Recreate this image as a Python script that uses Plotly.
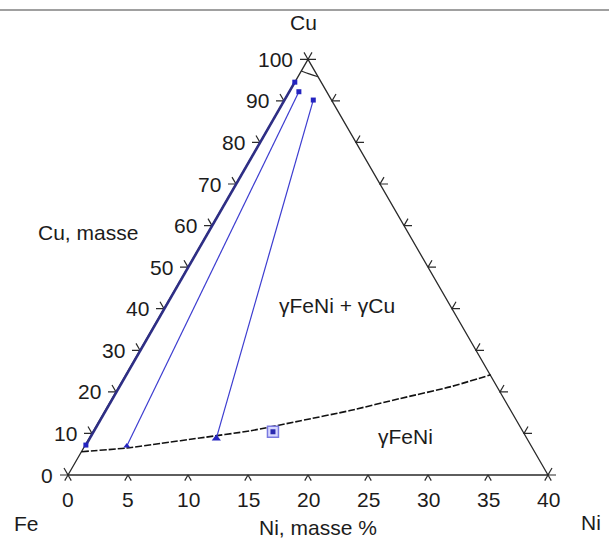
import plotly.graph_objects as go

# ---------------- data (Ni mass %, Cu mass %) ----------------
ni_ticks = [0, 5, 10, 15, 20, 25, 30, 35, 40]
cu_ticks = [0, 10, 20, 30, 40, 50, 60, 70, 80, 90, 100]

# boundary gammaFeNi / gammaFeNi + gammaCu
solvus_ni = [0.0, 3.6, 6.2, 9.2, 13.0, 16.7, 20.4, 24.0, 27.6, 30.4]
solvus_cu = [5.6, 6.5, 7.6, 8.9, 10.6, 13.0, 15.5, 18.4, 21.2, 24.1]

# Cu-rich boundary near the Cu corner
cu_corner_ni = [0.0, 0.8, 1.68]
cu_corner_cu = [97.2, 96.5, 95.8]

# tie lines (gammaFeNi end, gammaCu end)
tie_ni_low = [0.05, 3.5, 10.6]
tie_cu_low = [7.2, 7.0, 8.8]
tie_ni_high = [0.0, 0.8, 2.4]
tie_cu_high = [94.5, 92.2, 90.2]

# single alloy point
alloy_ni = [15.0]
alloy_cu = [10.4]

NI_MAX = 40
CU_MAX = 100
H = NI_MAX * 0.8660254 / CU_MAX   # height factor of the equilateral frame


def proj(ni, cu):
    """Skewed (triangular) projection into the plane, Ni units."""
    return ni + cu * (NI_MAX / 2) / CU_MAX, cu * H


def proj_list(nis, cus):
    xs, ys = [], []
    for a, b in zip(nis, cus):
        x, y = proj(a, b)
        xs.append(x)
        ys.append(y)
    return xs, ys


fig = go.Figure()
AX = "#2a2a2a"
TXT = "#1c1c1c"

# frame (triangle)
fx, fy = proj_list([0, NI_MAX, 0, 0], [0, 0, CU_MAX, 0])
fig.add_trace(go.Scatter(x=fx, y=fy, mode="lines",
                         line=dict(color=AX, width=1.3), hoverinfo="skip"))

# ticks
PX = 12.0  # pixels per Ni unit in this layout
L = 8 / PX
Lb = 6.5 / PX
tx, ty = [], []
c60, s60 = 0.5, 0.8660254
for n in ni_ticks:
    x, y = proj(n, 0)
    tx += [x - c60 * Lb, x, x + c60 * Lb, None]
    ty += [y - s60 * Lb, y, y - s60 * Lb, None]
for c in cu_ticks:
    x, y = proj(0, c)
    tx += [x - L, x, x - c60 * L, None]
    ty += [y, y, y + s60 * L, None]
    x, y = proj(NI_MAX * (1 - c / CU_MAX), c)
    tx += [x + L, x, x + c60 * L, None]
    ty += [y, y, y + s60 * L, None]
fig.add_trace(go.Scatter(x=tx, y=ty, mode="lines",
                         line=dict(color=AX, width=1.2), hoverinfo="skip"))

# solvus curve (dashed)
sx, sy = proj_list(solvus_ni, solvus_cu)
fig.add_trace(go.Scatter(x=sx, y=sy, mode="lines",
                         line=dict(color="#111111", width=1.6, dash="7px,2px",
                                   shape="spline", smoothing=0.6),
                         hoverinfo="skip"))

# Cu corner boundary
kx, ky = proj_list(cu_corner_ni, cu_corner_cu)
fig.add_trace(go.Scatter(x=kx, y=ky, mode="lines",
                         line=dict(color=AX, width=1.2, shape="spline"),
                         hoverinfo="skip"))

# tie lines
tie_colors = ["#2e2e85", "#3c3cd0", "#3c3cd0"]
tie_widths = [2.6, 1.2, 1.2]
low_symbols = ["square", "triangle-up", "triangle-up"]
low_sizes = [5, 6, 8]
for i in range(len(tie_ni_low)):
    lx, ly = proj_list([tie_ni_low[i], tie_ni_high[i]], [tie_cu_low[i], tie_cu_high[i]])
    fig.add_trace(go.Scatter(x=lx, y=ly, mode="lines",
                             line=dict(color=tie_colors[i], width=tie_widths[i]),
                             hoverinfo="skip"))
    fig.add_trace(go.Scatter(x=[lx[0]], y=[ly[0]], mode="markers",
                             marker=dict(symbol=low_symbols[i], size=low_sizes[i],
                                         color="#2424c0"),
                             hoverinfo="skip"))
    fig.add_trace(go.Scatter(x=[lx[1]], y=[ly[1]], mode="markers",
                             marker=dict(symbol="square", size=5, color="#2424c0"),
                             hoverinfo="skip"))

# alloy point
ax_, ay_ = proj_list(alloy_ni, alloy_cu)
fig.add_trace(go.Scatter(x=ax_, y=ay_, mode="markers",
                         marker=dict(symbol="square", size=11, color="#d8d8ff",
                                     line=dict(color="#7a7ae0", width=1.5)),
                         hoverinfo="skip"))
fig.add_trace(go.Scatter(x=ax_, y=ay_, mode="markers",
                         marker=dict(symbol="square", size=5, color="#2a2ab0"),
                         hoverinfo="skip"))

FONT = "Liberation Sans, Arial, sans-serif"
FS = 21
ann = []
for n in ni_ticks:
    x, y = proj(n, 0)
    ann.append(dict(x=x, y=y, text=str(n), showarrow=False, xanchor="center",
                    yanchor="middle", yshift=-24, font=dict(size=FS, color=TXT, family=FONT)))
for c in cu_ticks:
    x, y = proj(0, c)
    ann.append(dict(x=x, y=y, text=str(c), showarrow=False, xanchor="right",
                    yanchor="middle", xshift=-13, font=dict(size=FS, color=TXT, family=FONT)))


def pix(px, py):
    return (px - 68) / PX, (475 - py) / PX


labels = [
    ("Cu", 303, 22),
    ("Cu, masse", 88, 232),
    ("γFeNi + γCu", 337, 305),
    ("γFeNi", 405, 436),
    ("Fe", 26, 523),
    ("Ni", 591, 522),
    ("Ni, masse %", 318, 527),
]
for t, px, py in labels:
    x, y = pix(px, py)
    ann.append(dict(x=x, y=y, text=t, showarrow=False, xanchor="center",
                    yanchor="middle", font=dict(size=FS, color=TXT, family=FONT)))

fig.update_layout(
    width=609, height=541,
    margin=dict(l=0, r=0, t=0, b=0),
    paper_bgcolor="white", plot_bgcolor="white",
    showlegend=False, hovermode=False,
    xaxis=dict(range=[-68 / PX, (609 - 68) / PX], visible=False, fixedrange=True),
    yaxis=dict(range=[(475 - 541) / PX, 475 / PX], visible=False, fixedrange=True),
    annotations=ann,
    shapes=[dict(type="line", xref="paper", yref="paper", x0=0, x1=1,
                 y0=1 - 10 / 541, y1=1 - 10 / 541,
                 line=dict(color="#a0a0a0", width=2))],
)

fig.write_html("out.html", config={"displayModeBar": False},
               post_script="document.body.style.margin='0';document.body.style.overflow='hidden';")
